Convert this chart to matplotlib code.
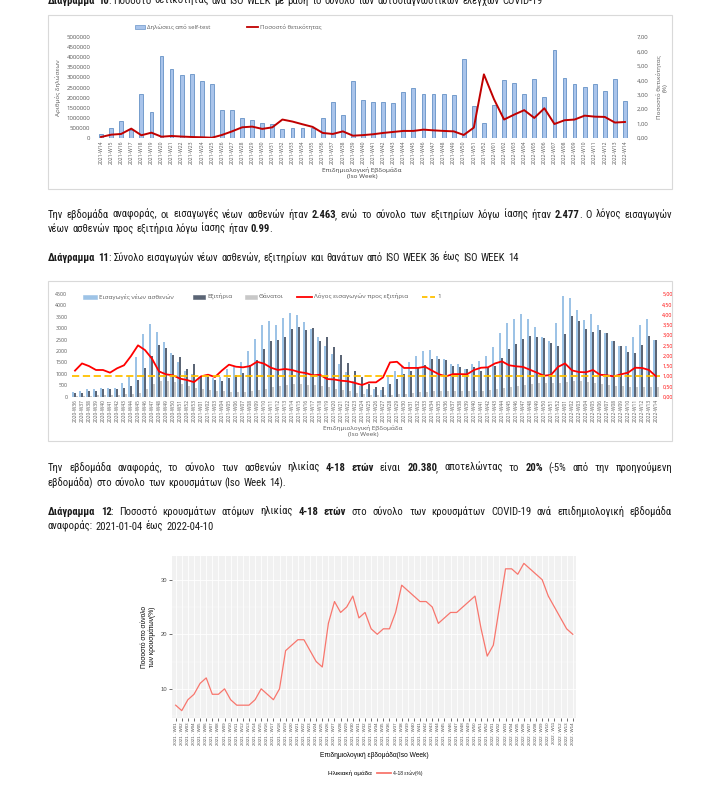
import matplotlib
matplotlib.use('Agg')
import matplotlib.pyplot as plt
from matplotlib import font_manager
from matplotlib.patches import Rectangle
from matplotlib.lines import Line2D
import numpy as np

W, H = 710, 795

# --- Διάγραμμα 10: self-test ανά εβδομάδα (2021-W14 .. 2022-W14)
weeks10 = [f"2021-W{w:02d}" for w in range(14, 53)] + [f"2022-W{w:02d}" for w in range(1, 15)]
self_tests = [0.21, 0.50, 0.83, 0.40, 2.16, 1.30, 4.04, 3.43, 3.14, 3.18,
              2.82, 2.69, 1.40, 1.40, 1.00, 0.87, 0.76, 0.71, 0.46, 0.48,
              0.51, 0.50, 0.99, 1.77, 1.16, 2.84, 1.90, 1.80, 1.80, 1.74,
              2.30, 2.48, 2.20, 2.18, 2.17, 2.15, 3.92, 1.59, 0.73, 1.65,
              2.86, 2.74, 2.18, 2.93, 2.03, 4.38, 2.96, 2.66, 2.53, 2.69,
              2.33, 2.93, 1.85]  # εκατομμύρια
positivity = [0.07, 0.23, 0.28, 0.65, 0.19, 0.37, 0.09, 0.14, 0.10, 0.07,
              0.05, 0.02, 0.21, 0.46, 0.74, 0.79, 0.63, 0.74, 1.28, 1.14,
              0.95, 0.77, 0.35, 0.28, 0.46, 0.16, 0.20, 0.26, 0.35, 0.42,
              0.49, 0.49, 0.58, 0.53, 0.49, 0.46, 0.21, 0.72, 4.41, 2.69,
              1.28, 1.62, 1.93, 1.39, 2.06, 0.97, 1.23, 1.28, 1.55, 1.48,
              1.46, 1.07, 1.11]

# --- Διάγραμμα 11: εισαγωγές / εξιτήρια / θάνατοι (2020-W36 .. 2022-W14)
weeks11 = ([f"2020-W{w:02d}" for w in range(36, 54)] + [f"2021-W{w:02d}" for w in range(1, 53)]
           + [f"2022-W{w:02d}" for w in range(1, 15)])
admissions = [200, 270, 330, 340, 390, 360, 400, 580, 920, 1750,
              2760, 3200, 2850, 2400, 1930, 1520, 1130, 980, 870, 860,
              800, 850, 1230, 1280, 1500, 2000, 2550, 3120, 3300, 3130,
              3430, 3680, 3560, 3280, 2980, 2630, 2200, 1880, 1420, 1100,
              700, 460, 350, 330, 300, 870, 1140, 1330, 1540, 1800,
              2020, 2040, 1800, 1640, 1440, 1450, 1230, 1430, 1560, 1780,
              2160, 2770, 3220, 3400, 3620, 3400, 3050, 2600, 2430, 3220,
              4400, 4320, 3820, 3380, 3620, 3140, 2800, 2430, 2220, 2200,
              2620, 3140, 3420, 2463]
discharges = [160, 150, 260, 270, 320, 340, 320, 390, 450, 720,
              1270, 1770, 2270, 2130, 1840, 1750, 1230, 1420, 870, 860,
              720, 700, 800, 960, 1050, 1400, 1600, 2080, 2420, 2480,
              2600, 2980, 3040, 2920, 3000, 2460, 2600, 2180, 1810, 1490,
              1140, 850, 550, 430, 440, 540, 760, 990, 1140, 1300,
              1390, 1640, 1660, 1600, 1340, 1320, 1200, 1320, 1130, 1260,
              1350, 1700, 2100, 2330, 2510, 2670, 2600, 2560, 2360, 2220,
              2740, 3540, 3300, 2970, 2840, 2940, 2800, 2430, 2220, 1960,
              1900, 2260, 2660, 2477]
deaths = [30, 40, 50, 60, 60, 70, 80, 100, 130, 180,
          330, 560, 680, 700, 640, 560, 480, 380, 330, 300,
          250, 230, 220, 200, 220, 240, 280, 330, 420, 470,
          520, 540, 560, 530, 500, 480, 430, 350, 300, 230,
          160, 120, 90, 70, 60, 80, 110, 140, 170, 200,
          210, 230, 240, 250, 260, 260, 250, 240, 270, 300,
          330, 380, 430, 480, 520, 560, 580, 600, 590, 620,
          650, 700, 690, 660, 620, 560, 520, 480, 460, 440,
          430, 420, 430, 420]
ratio = [1.27, 1.62, 1.49, 1.30, 1.30, 1.17, 1.38, 1.53, 1.98, 2.50,
         2.27, 1.85, 1.23, 1.09, 1.04, 0.88, 0.81, 0.71, 0.99, 1.07,
         0.96, 1.28, 1.56, 1.46, 1.43, 1.49, 1.70, 1.61, 1.41, 1.30,
         1.35, 1.30, 1.20, 1.15, 1.04, 1.07, 0.86, 0.84, 0.78, 0.75,
         0.67, 0.57, 0.70, 0.70, 0.94, 1.67, 1.70, 1.40, 1.40, 1.40,
         1.46, 1.27, 1.09, 0.99, 1.10, 1.10, 1.09, 1.30, 1.41, 1.43,
         1.62, 1.72, 1.53, 1.48, 1.45, 1.31, 1.17, 1.02, 1.06, 1.45,
         1.62, 1.28, 1.20, 1.19, 1.30, 1.07, 1.04, 0.99, 1.09, 1.17,
         1.41, 1.40, 1.30, 0.99]

# --- Διάγραμμα 12: ποσοστό 4-18 ετών (2021-W01 .. 2022-W14)
weeks12 = [f"2021 - W{w:02d}" for w in range(1, 53)] + [f"2022 - W{w:02d}" for w in range(1, 15)]
pct_4_18 = [7, 6, 8, 9, 11, 12, 9, 9, 10, 8,
            7, 7, 7, 8, 10, 9, 8, 10, 17, 18,
            19, 19, 17, 15, 14, 22, 26, 24, 25, 27,
            23, 24, 21, 20, 21, 21, 24, 29, 28, 27,
            26, 26, 25, 22, 23, 24, 24, 25, 26, 27,
            21, 16,
            18, 25, 32, 32, 31, 33, 32, 31, 30, 27, 25, 23, 21, 20]

# κείμενο σελίδας (** = έντονα)
title10 = "**Διάγραμμα 10**: Ποσοστό θετικότητας ανά ISO WEEK με βάση το σύνολο των αυτοδιαγνωστικών ελέγχων COVID-19"
para1 = ["Την εβδομάδα αναφοράς, οι εισαγωγές νέων ασθενών ήταν **2.463**, ενώ το σύνολο των εξιτηρίων λόγω ίασης ήταν **2.477**.  Ο λόγος εισαγωγών",
         "νέων ασθενών προς εξιτήρια λόγω ίασης ήταν **0.99**."]
title11 = "**Διάγραμμα 11**: Σύνολο εισαγωγών νέων ασθενών, εξιτηρίων και θανάτων από ISO WEEK 36 έως ISO WEEK 14"
para2 = ["Την εβδομάδα αναφοράς, το σύνολο των ασθενών ηλικίας **4-18 ετών** είναι **20.380**, αποτελώντας το **20%** (-5% από την προηγούμενη",
         "εβδομάδα) στο σύνολο των κρουσμάτων (Iso Week 14)."]
title12 = ["**Διάγραμμα 12**:  Ποσοστό κρουσμάτων ατόμων ηλικίας **4-18 ετών** στο σύνολο των κρουσμάτων COVID-19 ανά επιδημιολογική εβδομάδα",
           "αναφοράς: 2021-01-04 έως 2022-04-10"]

# γραμματοσειρές
have = {f.name for f in font_manager.fontManager.ttflist}
def pick(*names):
    for n in names:
        if n in have:
            return n
    return 'DejaVu Sans'

TXT = pick('Liberation Sans Narrow', 'Roboto Condensed', 'Open Sans', 'Roboto')
XL = pick('Open Sans', 'Lato', 'Roboto')
GG = pick('Liberation Sans', 'DejaVu Sans')
plt.rcParams['font.family'] = [TXT, 'DejaVu Sans']


def fx(px):
    return px / W


def fy(py):
    return 1 - py / H


fig = plt.figure(figsize=(W / 100, H / 100), dpi=100)
rend = fig.canvas.get_renderer()


def rich_line(x0, y, line, size, x1=None, color='#1a1a1a'):
    # γραμμή κειμένου με έντονα τμήματα, προαιρετικά πλήρως στοιχισμένη
    words = []
    bold = False
    for w in line.split(' '):
        if not w:
            continue
        pieces = []
        for k, p in enumerate(w.split('**')):
            if k:
                bold = not bold
            if p:
                pieces.append((p, bold))
        words.append(pieces)
    items = []
    total = 0
    for pieces in words:
        arts = []
        ww = 0
        for p, b in pieces:
            t = fig.text(0, fy(y), p, fontsize=size, family=TXT, color=color,
                         fontweight='bold' if b else 'normal', va='baseline', ha='left')
            tw = t.get_window_extent(rend).width
            arts.append((t, tw))
            ww += tw
        ww -= 0.9 * (len(arts) - 1)
        items.append((arts, ww))
        total += ww
    sp = size * 100 / 72 * 0.26
    if x1 is not None and len(items) > 1:
        sp = (x1 - x0 - total) / (len(items) - 1)
    x = x0
    for arts, ww in items:
        xs = x
        for t, tw in arts:
            t.set_x(fx(xs))
            xs += tw - 0.9
        x += ww + sp


def box(x0, y0, x1, y1):
    fig.add_artist(Rectangle((fx(x0), fy(y1)), fx(x1) - fx(x0), (y1 - y0) / H,
                             transform=fig.transFigure, fill=False, ec='#d9d9d9', lw=0.8))


def leg_patch(x0, x1, y, color, label, size, ec=None):
    fig.add_artist(Rectangle((fx(x0), fy(y + 2)), fx(x1) - fx(x0), 4 / H, transform=fig.transFigure,
                             fc=color, ec=ec if ec else color, lw=0.4))
    fig.text(fx(x1 + 2), fy(y), label, fontsize=size, family=XL, color='#595959', va='center')


def leg_line(x0, x1, y, color, label, size, ls='-', fam=None, tcol='#595959'):
    fig.add_artist(Line2D([fx(x0), fx(x1)], [fy(y), fy(y)], transform=fig.transFigure,
                          color=color, lw=1.3, ls=ls))
    fig.text(fx(x1 + 2), fy(y), label, fontsize=size, family=fam if fam else XL, color=tcol, va='center')


FS = 7.7
# ---------------- κείμενα σελίδας
rich_line(48, 4, title10, FS)
rich_line(48, 218, para1[0], FS, x1=672)
rich_line(48, 232, para1[1], FS)
rich_line(48, 261, title11, FS)
rich_line(48, 471, para2[0], FS, x1=672)
rich_line(48, 486, para2[1], FS)
rich_line(48, 515, title12[0], FS, x1=672)
rich_line(48, 530, title12[1], FS)

# ---------------- Διάγραμμα 10
box(48, 15, 672, 189)
ax1 = fig.add_axes([fx(96), fy(138), fx(630) - fx(96), (138 - 37) / H])
x10 = np.arange(len(weeks10))
ax1.bar(x10, np.array(self_tests) * 1e6, width=0.38, color='#a9c4eb', edgecolor='#4f81bd', linewidth=0.5)
ax1.set_xlim(-0.5, len(weeks10) - 0.5)
ax1.set_ylim(0, 5e6)
ax1.set_yticks(np.arange(0, 5000001, 500000))
ax1.set_yticklabels([str(v) for v in range(0, 5000001, 500000)], family=XL)
ax1.set_xticks(x10)
ax1.set_xticklabels(weeks10, rotation=90, family=XL)
ax1.tick_params(axis='x', labelsize=3.6, length=0, pad=1.5, colors='#595959')
ax1.tick_params(axis='y', labelsize=4.3, length=0, pad=4, colors='#595959')
ax1.set_ylabel("Αριθμός δηλώσεων", fontsize=4.5, family=XL, color='#595959', labelpad=4)
ax1r = ax1.twinx()
ax1r.plot(x10, positivity, color='#c00000', lw=1.4)
ax1r.set_ylim(0, 7)
ax1r.set_yticks(range(8))
ax1r.set_yticklabels([f"{v},00" for v in range(8)], family=XL)
ax1r.tick_params(axis='y', labelsize=4.3, length=0, pad=5, colors='#595959')
ax1r.set_ylabel("Ποσοστό θετικότητας\n(%)", fontsize=4.5, family=XL, color='#595959', labelpad=5)
for a in (ax1, ax1r):
    for s in a.spines.values():
        s.set_visible(False)
fig.text(fx(362), fy(173), "Επιδημιολογική Εβδομάδα\n(Iso Week)", fontsize=4.6, family=XL,
         color='#404040', ha='center', va='center', linespacing=1.3)
leg_patch(135, 145, 27, '#a9c4eb', "Δηλώσεις από self-test", 4.3, ec='#4f81bd')
leg_line(247, 258, 27, '#c00000', "Ποσοστό θετικότητας", 4.3)

# ---------------- Διάγραμμα 11
box(48, 281, 672, 441)
ax2 = fig.add_axes([fx(71.5), fy(396.7), fx(659.5) - fx(71.5), (396.7 - 294) / H])
x11 = np.arange(len(weeks11))
bw = 0.28
ax2.bar(x11 - 0.3, admissions, width=bw, color='#9dc3e6', lw=0)
ax2.bar(x11, discharges, width=bw, color='#5b6575', lw=0)
ax2.bar(x11 + 0.3, deaths, width=bw, color='#c8c8c8', lw=0)
ax2.set_xlim(-0.5, len(weeks11) - 0.5)
ax2.set_ylim(0, 4500)
ax2.set_yticks(range(0, 4501, 500))
ax2.set_yticklabels([str(v) for v in range(0, 4501, 500)], family=XL)
ax2.set_xticks(x11)
ax2.set_xticklabels(weeks11, rotation=90, family=XL)
ax2.tick_params(axis='x', labelsize=3.5, length=0, pad=1.5, colors='#595959')
ax2.tick_params(axis='y', labelsize=3.8, length=0, pad=3, colors='#595959')
ax2r = ax2.twinx()
ax2r.plot(x11, ratio, color='#ff0000', lw=1.3)
ax2r.axhline(1, color='#ffc000', lw=1.3, ls=(0, (4, 2)))
ax2r.set_ylim(0, 5)
ax2r.set_yticks(np.arange(0, 5.01, 0.5))
ax2r.set_yticklabels([f"{v:.2f}".replace('.', ',') for v in np.arange(0, 5.01, 0.5)], family=XL)
ax2r.tick_params(axis='y', labelsize=3.8, length=0, pad=2, colors='#ff0000')
for a in (ax2, ax2r):
    for s in a.spines.values():
        s.set_visible(False)
fig.text(fx(363), fy(431), "Επιδημιολογική Εβδομάδα\n(Iso Week)", fontsize=4.6, family=XL,
         color='#595959', ha='center', va='center', linespacing=1.3)
leg_patch(83, 97, 296.7, '#9dc3e6', "Εισαγωγές νέων ασθενών", 4.5)
leg_patch(193, 205, 296.7, '#5b6575', "Εξιτήρια", 4.5)
leg_patch(245, 257, 296.7, '#c8c8c8', "Θάνατοι", 4.5)
leg_line(297, 312, 296.7, '#ff0000', "Λόγος εισαγωγών προς εξιτήρια", 4.5)
leg_line(422, 435, 296.7, '#ffc000', "1", 4.5, ls=(0, (3, 1.5)))

# ---------------- Διάγραμμα 12 (ggplot στυλ)
ax3 = fig.add_axes([fx(172), fy(718), fx(576.4) - fx(172), (718 - 556) / H])
x12 = np.arange(len(weeks12))
ax3.set_facecolor('#f1f1f1')
ax3.plot(x12, pct_4_18, color='#f8766d', lw=0.9, zorder=3)
ax3.set_xlim(-0.6, len(weeks12) - 0.4)
lo, hi = min(pct_4_18), max(pct_4_18)
pad = (hi - lo) * 0.05
ax3.set_ylim(lo - pad, hi + pad)
ax3.set_yticks([10, 20, 30])
ax3.set_yticks([5, 15, 25], minor=True)
ax3.set_xticks(x12)
ax3.set_xticklabels(weeks12, rotation=90, family=GG)
ax3.set_yticklabels(['10', '20', '30'], family=GG)
ax3.grid(True, which='major', color='white', lw=0.6)
ax3.grid(True, which='minor', axis='y', color='white', lw=0.3)
ax3.set_axisbelow(True)
ax3.tick_params(axis='x', labelsize=3.2, length=2, width=0.5, pad=1, colors='#333333', labelcolor='#4d4d4d')
ax3.tick_params(axis='y', labelsize=4.2, length=2, width=0.5, pad=1.5, colors='#333333', labelcolor='#4d4d4d')
ax3.tick_params(which='minor', length=0)
for s in ax3.spines.values():
    s.set_visible(False)
ax3.set_ylabel("Ποσοστό στο σύνολο\nτων κρουσμάτων(%)", fontsize=4.8, family=GG, labelpad=3)
fig.text(fx(374), fy(755), "Επιδημιολογική εβδομάδα(Iso Week)", fontsize=4.8, family=GG,
         ha='center', va='center')
fig.text(fx(328), fy(773), "Ηλικιακή ομάδα", fontsize=4.6, family=GG, va='center')
leg_line(377, 391, 773, '#f8766d', "4-18 ετών(%)", 3.6, fam=GG, tcol='#1a1a1a')

fig.savefig('out.png', dpi=100)
